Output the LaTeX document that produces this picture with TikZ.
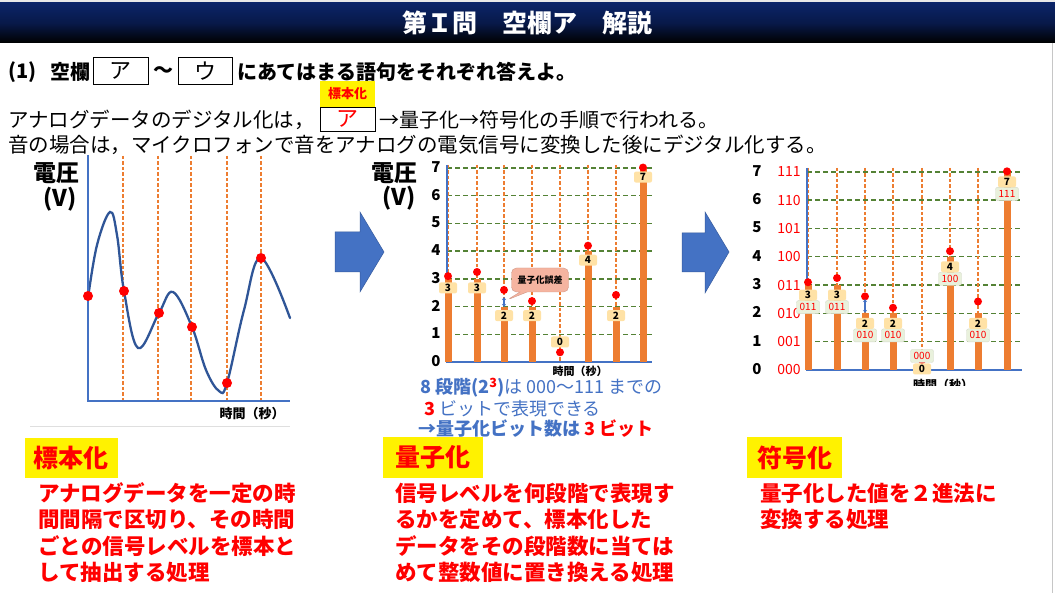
\documentclass[tikz,border=0pt]{standalone}
\usepackage{fontspec}
\setmainfont{Noto Sans CJK JP}
\usetikzlibrary{shapes.callouts,arrows.meta}
\definecolor{navy}{HTML}{0B2468}
\definecolor{axblue}{HTML}{4472C4}
\definecolor{wave}{HTML}{2F5597}
\definecolor{org}{HTML}{ED7D31}
\definecolor{grn}{HTML}{548235}
\definecolor{lorg}{HTML}{FFE2A6}
\definecolor{lgrn}{HTML}{E9F1DC}
\definecolor{salmon}{HTML}{F5B4A0}
\definecolor{arrblue}{HTML}{4472C4}
\definecolor{txtred}{HTML}{FF0000}
\newcommand{\fs}[1]{\fontsize{#1}{#1}\selectfont}
\tikzset{
 t/.style={inner sep=0pt, anchor=west},
 tc/.style={inner sep=0pt},
 axisline/.style={draw=axblue, line width=2.4pt},
 vdash/.style={draw=org, line width=1.2pt, dash pattern=on 3.5pt off 2pt},
 hdash/.style={draw=grn, line width=1.4pt, dash pattern=on 5pt off 3pt},
 barline/.style={draw=org, line width=7pt},
 rdot/.style={circle, fill=red, inner sep=0pt, minimum size=8pt},
 dlab/.style={rounded corners=2pt, fill=lorg, inner sep=0pt, minimum width=18pt, minimum height=11pt, font=\fs{10}\bfseries},
 blab/.style={rounded corners=2pt, fill=lgrn, draw=lgrn!80!gray, line width=0.4pt, inner sep=0pt, minimum width=23pt, minimum height=13pt, text=red, font=\fs{10}},
 hlbox/.style={fill=yellow, inner sep=0pt, text=txtred, font=\fs{25}\bfseries},
 redtxt/.style={inner sep=0pt, anchor=west, text=txtred, font=\fs{21.5}\bfseries},
 blockarrow/.style={fill=arrblue, draw=arrblue!80!black, line width=0.5pt},
 errarrow/.style={{Stealth[length=3pt,width=4pt]}-{Stealth[length=3pt,width=4pt]}, draw=axblue, line width=2.2pt},
}
\begin{document}
\begin{tikzpicture}[x=1pt,y=-1pt]
\useasboundingbox (0,0) rectangle (1055,593);
\fill[white] (0,0) rectangle (1055,593);
% title bar
\fill[gray!18] (0,0) rectangle (1055,3);
\shade[top color=navy, bottom color=black, middle color=navy!70!black] (0,3) rectangle (1055,43);
\node[tc, text=white, font=\fs{25}\bfseries] (title) at (527,23) {第Ｉ問　空欄ア　解説};
\draw[gray!45, line width=1pt] (1052.5,43) -- (1052.5,593);

% question line
\node[t, font=\fs{20}\bfseries] (q1n) at (8,72) {(1)};
\node[inner sep=0pt, anchor=east, font=\fs{20}\bfseries] (q1a) at (91,72) {空欄};
\node[draw, line width=0.8pt, minimum width=55pt, minimum height=27pt, inner sep=0pt, font=\fs{22}] (boxA) at (120.5,71) {ア};
\node[tc, font=\fs{20}\bfseries] (tilde) at (163,72) {～};
\node[draw, line width=0.8pt, minimum width=54pt, minimum height=27pt, inner sep=0pt, font=\fs{22}] (boxU) at (205,71) {ウ};
\node[t, font=\fs{20}\bfseries] (q1b) at (237,72) {にあてはまる語句をそれぞれ答えよ。};

% answer highlight
\node[fill=yellow, minimum width=55pt, minimum height=26pt, inner sep=0pt, text=txtred, font=\fs{13}\bfseries] (ansA) at (347.5,94) {標本化};
\node[t, font=\fs{20.5}] (l2a) at (8,120) {アナログデータのデジタル化は，};
\node[draw, line width=0.8pt, minimum width=55pt, minimum height=24pt, inner sep=0pt, text=txtred, font=\fs{22}] (boxA2) at (347.5,119) {ア};
\node[t, font=\fs{20}] (l2b) at (379,120) {→量子化→符号化の手順で行われる。};
\node[t, font=\fs{20.5}] (l3) at (8,145) {音の場合は，マイクロフォンで音をアナログの電気信号に変換した後にデジタル化する。};

% ---------- left graph ----------
\foreach \x [count=\i] in {123,158,191,227,261}
  \draw[vdash] (\x,156) -- (\x,401);
\draw[gray!25, line width=1pt] (30,427) -- (290,427);
\draw[wave, line width=2.3pt, line cap=round] plot[smooth, tension=0.62] coordinates
 {(88,298) (97,245) (110,212) (117,235) (124,291) (138,348) (159,313) (173,292) (192,327) (206,370) (219,391) (227,383) (244,310) (261,258) (290,318)};
\draw[axisline] (88,155) -- (88,401) -- (290,401);
\foreach \x/\y [count=\i] in {88/296,124/291,159/313,192/327,227/383,261/258}
  \node[rdot, minimum size=10pt] (ld\i) at (\x,\y) {};
\node[tc, font=\fs{23}\bfseries] (lv1) at (56,173) {電圧};
\node[tc, font=\fs{23}\bfseries] (lv2) at (60,199) {(V)};
\node[tc, font=\fs{13}\bfseries] (lt) at (252,414) {時間（秒）};

% block arrows
\fill[blockarrow] (335,232) -- (360,232) -- (360,212) -- (384,252) -- (360,292) -- (360,272) -- (335,272) -- cycle;
\fill[blockarrow] (682,233) -- (705,233) -- (705,212) -- (729,252) -- (705,293) -- (705,272) -- (682,272) -- cycle;

% ---------- middle graph ----------
\foreach \k in {1,...,7}
  \draw[hdash] (447,{362-27.7*\k}) -- (652,{362-27.7*\k});
\foreach \x in {448,477,504,532,560,588,616,643}
  \draw[vdash] (\x,165) -- (\x,362);
\draw[axisline] (447,165) -- (447,362) -- (652,362);
\foreach \k in {0,...,7}
  \node[tc, font=\fs{15}\bfseries] (my\k) at (436,{361-27.7*\k}) {\k};
\foreach \i/\x/\v/\q in {1/448/3.1/3, 2/477/3.25/3, 3/504/2.6/2, 4/532/2.2/2, 5/560/0.35/0, 6/588/4.2/4, 7/616/2.42/2, 8/643/7.02/7}{
  \ifnum\q>0 \draw[barline] (\x,362) -- (\x,{362-27.7*\q}); \fi
  \node[rdot] (md\i) at (\x,{362-27.7*\v}) {};
  \pgfmathsetmacro{\ly}{\q==0 ? 342 : 362-27.7*\q+9}
  \node[dlab] (ml\i) at (\x,\ly) {\q};
}
\coordinate (me1) at (504,307);
\coordinate (me2) at (504,297);
\draw[errarrow] (me1) -- (me2);
\node[rectangle callout, callout absolute pointer={(507,300)}, rounded corners=5pt, fill=salmon, draw=salmon!85!black, line width=0.4pt, minimum width=57pt, minimum height=24pt, inner sep=0pt, font=\fs{9}\bfseries] (err) at (540,280) {量子化誤差};
\node[tc, font=\fs{23}\bfseries] (mv1) at (394,173) {電圧};
\node[tc, font=\fs{23}\bfseries] (mv2) at (399,198) {(V)};
\node[tc, font=\fs{11}\bfseries] (mt) at (580,371) {時間（秒）};
\node[t, text=axblue, font=\fs{18}] (mx1) at (420,388) {\bfseries 8 段階(2\textsuperscript{\color{red}3})\mdseries は 000～111 までの};
\node[t, text=axblue, font=\fs{18}] (mx2) at (424,409) {\textcolor{red}{\bfseries 3} ビットで表現できる};
\node[t, text=axblue, font=\fs{18}\bfseries] (mx3) at (418,429) {→量子化ビット数は \textcolor{red}{3 ビット}};

% ---------- right graph ----------
\foreach \k in {1,...,7}
  \draw[hdash] (807,{370-28.3*\k}) -- (1022,{370-28.3*\k});
\foreach \x in {808,837,865,893,922,950,978,1007}
  \draw[vdash] (\x,168) -- (\x,370);
\draw[axisline] (807,168) -- (807,370) -- (1022,370);
\foreach \k/\b in {0/000,1/001,2/010,3/011,4/100,5/101,6/110,7/111}{
  \node[tc, font=\fs{15}\bfseries] (rd\k) at (757,{369-28.3*\k}) {\k};
  \node[tc, text=red, font=\fs{14}] (rb\k) at (789,{370-28.3*\k}) {\b};
}
\foreach \i/\x/\v/\q/\b in {1/808/3.1/3/011, 2/837/3.25/3/011, 3/865/2.6/2/010, 4/893/2.2/2/010, 5/922/0.35/0/000, 6/950/4.2/4/100, 7/978/2.42/2/010, 8/1007/7.02/7/111}{
  \ifnum\q>0 \draw[barline] (\x,370) -- (\x,{370-28.3*\q}); \fi
  \node[rdot] (rdt\i) at (\x,{370-28.3*\v}) {};
  \pgfmathsetmacro{\oy}{\q==0 ? 369 : 370-28.3*\q+10}
  \pgfmathsetmacro{\gy}{\q==0 ? 356 : 370-28.3*\q+22}
  \node[blab] (rg\i) at (\x,\gy) {\b};
  \node[dlab] (ro\i) at (\x,\oy) {\q};
}
\coordinate (re1) at (865,313);
\coordinate (re2) at (865,299);
\draw[errarrow] (re1) -- (re2);
\begin{scope}
 \clip (880,372) rectangle (1000,385.5);
 \node[tc, font=\fs{12}\bfseries] (rt) at (943,385) {時間（秒）};
\end{scope}

% ---------- bottom explanations ----------
\node[hlbox, minimum width=93pt, minimum height=40pt] (h1) at (71,458) {標本化};
\node[hlbox, minimum width=100pt, minimum height=41pt] (h2) at (433,457.5) {量子化};
\node[hlbox, minimum width=95pt, minimum height=41pt] (h3) at (794.5,457.5) {符号化};

\node[redtxt] (s1) at (38,493) {アナログデータを一定の時};
\node[redtxt] (s2) at (38,519.5) {間間隔で区切り、その時間};
\node[redtxt] (s3) at (38,546) {ごとの信号レベルを標本と};
\node[redtxt] (s4) at (38,572) {して抽出する処理};

\node[redtxt] (k1) at (395,493) {信号レベルを何段階で表現す};
\node[redtxt] (k2) at (395,519.5) {るかを定めて、標本化した};
\node[redtxt] (k3) at (395,546) {データをその段階数に当ては};
\node[redtxt] (k4) at (395,572) {めて整数値に置き換える処理};

\node[redtxt] (f1) at (760,493) {量子化した値を２進法に};
\node[redtxt] (f2) at (760,519.5) {変換する処理};
\end{tikzpicture}
\end{document}
